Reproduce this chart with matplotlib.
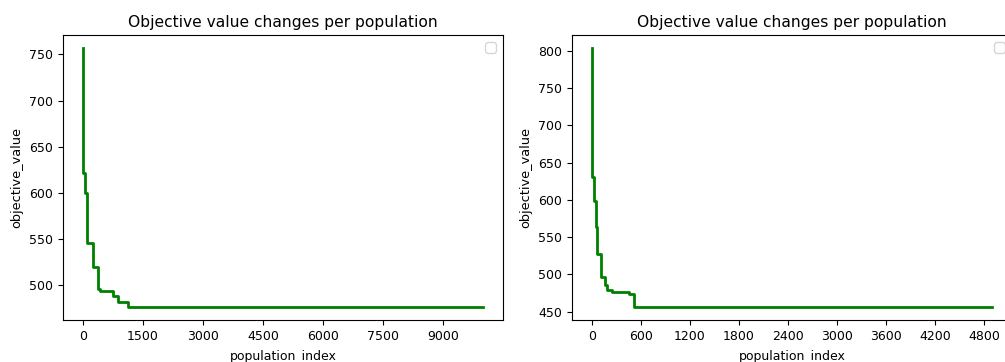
# encoding=utf-8
import matplotlib
matplotlib.use("Agg")
import numpy as np
import matplotlib.pyplot as plt

# left run: best objective value per population (step changes)
left_index = [0, 10, 40, 90, 240, 370, 420, 760, 870, 1130, 10000]
left_value = [757, 621, 600, 545, 519, 496, 493, 488, 482, 476, 476]

# right run
right_index = [0, 3, 25, 45, 65, 110, 160, 180, 240, 455, 510, 4900]
right_value = [804, 630, 599, 563, 527, 497, 486, 479, 476, 473, 456, 456]

left_xticks = [0, 1500, 3000, 4500, 6000, 7500, 9000]
right_xticks = [0, 600, 1200, 1800, 2400, 3000, 3600, 4200, 4800]

W, H = 1005, 362
fig = plt.figure(figsize=(W / 100, H / 100), dpi=100)

ax1 = fig.add_axes([63 / W, 1 - 320 / H, 440 / W, 285 / H])
ax2 = fig.add_axes([572 / W, 1 - 320 / H, 440 / W, 285 / H])

for ax, xs, ys, ticks in [(ax1, left_index, left_value, left_xticks),
                          (ax2, right_index, right_value, right_xticks)]:
    ax.step(xs, ys, where='post', color='green', linewidth=2)
    ax.set_xticks(ticks)
    ax.set_title('Objective value changes per population', fontsize=11.2)
    ax.set_xlabel('population_index', fontsize=9, labelpad=5)
    ax.set_ylabel('objective_value', fontsize=9.3)
    ax.tick_params(labelsize=9)
    ax.legend()

fig.savefig('out.png', dpi=100)
